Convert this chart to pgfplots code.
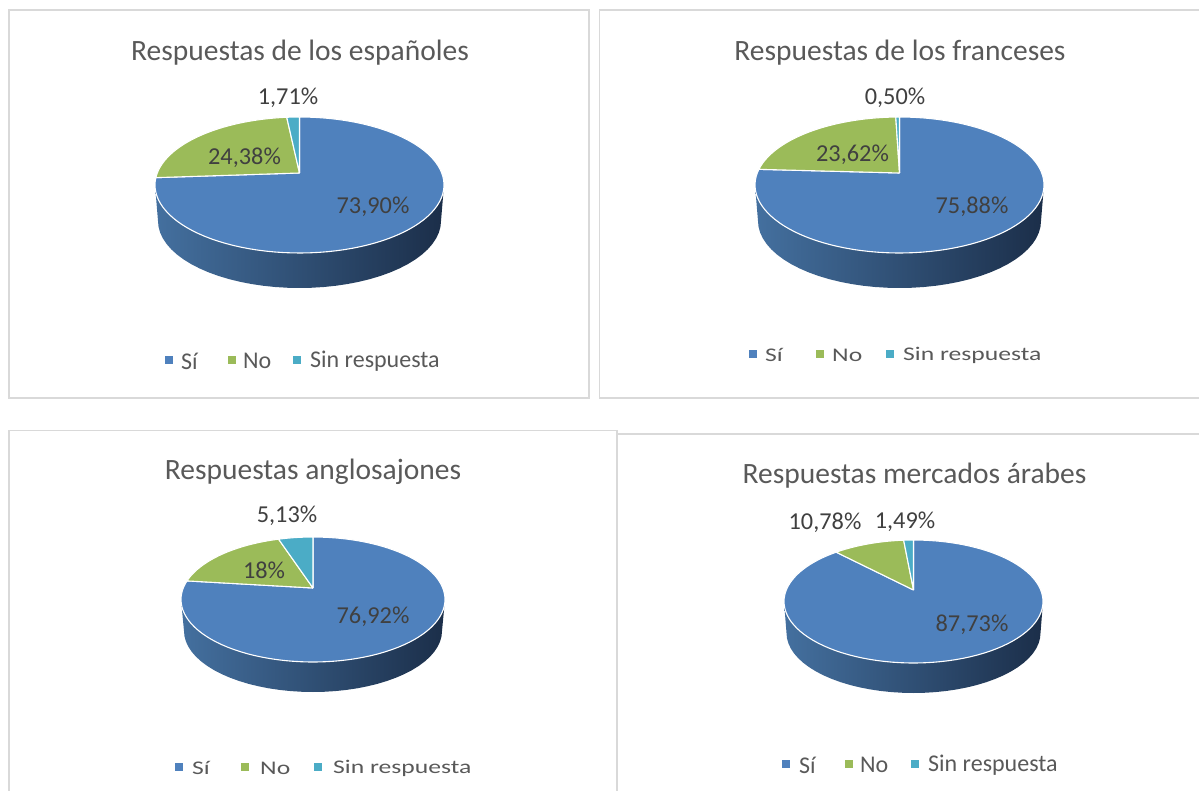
\documentclass[border=0pt]{standalone}
\usepackage{graphicx}
\usepackage{fontspec}
\setmainfont{Carlito}
\usepackage{pgfplots}
\pgfplotsset{compat=1.18}
\definecolor{cSi}{HTML}{4F81BD}
\definecolor{cNo}{HTML}{9BBB59}
\definecolor{cSR}{HTML}{4BACC6}
\definecolor{cLab}{HTML}{404040}
\definecolor{cTit}{HTML}{595959}
\definecolor{cFrame}{HTML}{D9D9D9}
\definecolor{sideL}{HTML}{44709F}
\definecolor{sideM}{HTML}{31507A}
\definecolor{sideR}{HTML}{1B2E49}
% geometry of the current pie
\newcommand\setPie[8]{%
  \def\pcx{#1}\def\pcy{#2}\def\pa{#3}\def\pb{#4}\def\pd{#5}%
  \def\pax{#6}\def\pcyy{#7}\def\pbb{#8}}
\newcommand\addPt[1]{% angle from the top, clockwise, apex off the ellipse centre
  \pgfmathsetmacro\pe{\pd/\pb}%
  \pgfmathsetmacro\pcc{cos(#1)}%
  \pgfmathsetmacro\pss{sin(#1)}%
  \pgfmathsetmacro\ptau{-\pe*\pcc+sqrt(\pe*\pe*\pcc*\pcc+1-\pe*\pe)}%
  \pgfmathsetmacro\px{\pcx+\pa*\pss*\ptau}%
  \pgfmathsetmacro\py{\pcy-\pd-\pb*\pcc*\ptau}%
  \xdef\coords{\coords (\px,\py)}}
\newcommand\pieWedge[3]{%
  \pgfmathsetmacro\apy{\pcy-\pd}%
  \xdef\coords{(\pcx,\apy)}%
  \pgfmathtruncatemacro\nn{max(2,ceil((#2-#1)/3))}%
  \foreach \i in {0,...,\nn}{%
    \pgfmathsetmacro\th{#1+(#2-#1)*(\i/\nn)}%
    \addPt{\th}}%
  \xdef\coords{\coords (\pcx,\apy)}%
  \edef\doplot{\noexpand\addplot[fill=#3,draw=white,line width=1.1pt,line join=round] coordinates {\coords};}%
  \doplot}
\newcommand\pieSide{%
  \xdef\coords{}%
  \foreach \t in {180,175,...,0}{%
    \pgfmathsetmacro\px{\pcx+\pa*cos(\t)}%
    \pgfmathsetmacro\py{\pcy+\pb*sin(\t)}%
    \xdef\coords{\coords (\px,\py)}}%
  \foreach \t in {0,5,...,180}{%
    \pgfmathsetmacro\px{\pcx+\pax*cos(\t)}%
    \pgfmathsetmacro\py{\pcyy+\pbb*sin(\t)}%
    \xdef\coords{\coords (\px,\py)}}%
  \edef\doplot{\noexpand\addplot[draw=none,left color=sideL,middle color=sideM,right color=sideR] coordinates {\coords};}%
  \doplot}
\newcommand\pieData[3]{% three percentages as printed on the chart
  \pgfmathsetmacro\tot{#1+#2+#3}%
  \pgfmathsetmacro\aA{360*(#1/\tot)}%
  \pgfmathsetmacro\aB{360*((#1+#2)/\tot)}%
  \pieSide
  \pieWedge{0}{\aA}{cSi}%
  \pieWedge{\aA}{\aB}{cNo}%
  \pieWedge{\aB}{360}{cSR}}
\newcommand\legSq[3]{\addplot[only marks,mark=square*,mark size=3.6pt,color=#3,mark options={draw=#3,fill=#3}] coordinates {(#1,#2)};}
\begin{document}
\begin{tikzpicture}
\path[use as bounding box] (0,0) rectangle (1199pt,791pt);
\begin{axis}[
  at={(0,0)},anchor=south west,
  scale only axis,width=1199pt,height=791pt,
  xmin=0,xmax=1199,ymin=0,ymax=791,y dir=reverse,
  hide axis,clip=true]
% frames
\draw[cFrame,line width=1.6pt] (9,10) rectangle (589,398);
\draw[cFrame,line width=1.6pt] (1205,10) -- (599.5,10) -- (599.5,398) -- (1205,398);
\draw[cFrame,line width=1.6pt] (9,800) -- (9,430.5) -- (617,430.5) -- (617,800);
\draw[cFrame,line width=1.6pt] (617,434) -- (1205,434);
% Espanoles
\setPie{299.5}{185}{144.5}{68}{12}{141.5}{221}{67}
\pieData{73.90}{24.38}{1.71}
\legSq{168.5}{360}{cSi}\legSq{232}{360}{cNo}\legSq{297}{360}{cSR}
% Franceses
\setPie{899.5}{185}{144.5}{68}{12}{141.5}{221}{67}
\pieData{75.88}{23.62}{0.50}
\legSq{752.5}{354}{cSi}\legSq{820}{354}{cNo}\legSq{890}{354}{cSR}
% Anglosajones
\setPie{313}{599.5}{132}{62.5}{11.5}{129}{631}{61}
\pieData{76.92}{18}{5.13}
\legSq{179}{767}{cSi}\legSq{245}{767}{cNo}\legSq{318}{767}{cSR}
% Arabes
\setPie{913.5}{601.5}{129.5}{61.5}{11.5}{127}{633}{60}
\pieData{87.73}{10.78}{1.49}
\legSq{786}{764}{cSi}\legSq{849}{764}{cNo}\legSq{915}{764}{cSR}
% titles
\tikzset{tit/.style={text=cTit,font=\fontsize{29.5}{31}\selectfont,inner sep=0pt},
 lab/.style={text=cLab,font=\fontsize{24.3}{26}\selectfont,inner sep=0pt},
 leg/.style={text=cTit,anchor=west,font=\fontsize{24}{26}\selectfont,inner sep=0pt},
 legw/.style={text=cTit,anchor=west,font=\fontsize{21}{23}\selectfont,inner sep=0pt}}
\node[tit] at (300,53) {Respuestas de los españoles};
\node[tit] at (900,53) {Respuestas de los franceses};
\node[tit] at (313,472) {Respuestas anglosajones};
\node[tit] at (914.5,476) {Respuestas mercados árabes};
% data labels
\node[lab] at (373,207) {73,90\%};
\node[lab] at (244.5,158) {24,38\%};
\node[lab] at (288,98) {1,71\%};
\node[lab] at (972,207) {75,88\%};
\node[lab] at (852.5,155) {23,62\%};
\node[lab] at (895,98) {0,50\%};
\node[lab] at (373,617) {76,92\%};
\node[lab] at (264,570) {18\%};
\node[lab] at (287,516) {5,13\%};
\node[lab] at (972,625) {87,73\%};
\node[lab] at (825,523) {10,78\%};
\node[lab] at (905,522) {1,49\%};
% legends
\node[leg] at (181,361) {Sí};
\node[leg] at (243,361) {No};
\node[leg] at (310,361) {Sin respuesta};
\node[legw] at (765,355) {\scalebox{1.22}[0.92]{Sí}};
\node[legw] at (832,355) {\scalebox{1.22}[0.92]{No}};
\node[legw] at (903,355) {\scalebox{1.22}[0.92]{Sin respuesta}};
\node[legw] at (192,768) {\scalebox{1.22}[0.92]{Sí}};
\node[legw] at (260,768) {\scalebox{1.22}[0.92]{No}};
\node[legw] at (333,768) {\scalebox{1.22}[0.92]{Sin respuesta}};
\node[leg] at (799,765) {Sí};
\node[leg] at (860,765) {No};
\node[leg] at (928,765) {Sin respuesta};
\end{axis}
\end{tikzpicture}
\end{document}
